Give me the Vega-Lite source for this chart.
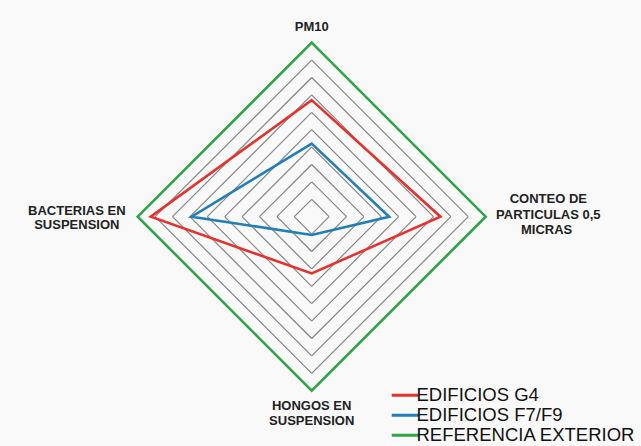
{
  "$schema": "https://vega.github.io/schema/vega-lite/v6.json",
  "width": 641,
  "height": 446,
  "autosize": {"type": "none"},
  "padding": 0,
  "background": "#f9f9f9",
  "config": {"view": {"stroke": null}, "font": "Liberation Sans"},
  "datasets": {
    "grid": [
      {"r": 1, "n": -1, "c": 0}, {"r": 2, "n": -2, "c": 0}, {"r": 3, "n": -3, "c": 0}, {"r": 4, "n": -4, "c": 0}, {"r": 5, "n": -5, "c": 0},
      {"r": 6, "n": -6, "c": 0}, {"r": 7, "n": -7, "c": 0}, {"r": 8, "n": -8, "c": 0}, {"r": 9, "n": -9, "c": 0}, {"r": 10, "n": -10, "c": 0}
    ],
    "series": [
      {"serie": "REFERENCIA EXTERIOR", "eje": "PM10", "orden": 1, "x": 0, "y": 10},
      {"serie": "REFERENCIA EXTERIOR", "eje": "CONTEO DE PARTICULAS 0,5 MICRAS", "orden": 2, "x": 10, "y": 0},
      {"serie": "REFERENCIA EXTERIOR", "eje": "HONGOS EN SUSPENSION", "orden": 3, "x": 0, "y": -10},
      {"serie": "REFERENCIA EXTERIOR", "eje": "BACTERIAS EN SUSPENSION", "orden": 4, "x": -10, "y": 0},
      {"serie": "EDIFICIOS G4", "eje": "PM10", "orden": 1, "x": 0, "y": 6.7},
      {"serie": "EDIFICIOS G4", "eje": "CONTEO DE PARTICULAS 0,5 MICRAS", "orden": 2, "x": 7.4, "y": 0},
      {"serie": "EDIFICIOS G4", "eje": "HONGOS EN SUSPENSION", "orden": 3, "x": 0, "y": -3.26},
      {"serie": "EDIFICIOS G4", "eje": "BACTERIAS EN SUSPENSION", "orden": 4, "x": -9.25, "y": 0},
      {"serie": "EDIFICIOS F7/F9", "eje": "PM10", "orden": 1, "x": 0, "y": 4.2},
      {"serie": "EDIFICIOS F7/F9", "eje": "CONTEO DE PARTICULAS 0,5 MICRAS", "orden": 2, "x": 4.45, "y": 0},
      {"serie": "EDIFICIOS F7/F9", "eje": "HONGOS EN SUSPENSION", "orden": 3, "x": 0, "y": -1.05},
      {"serie": "EDIFICIOS F7/F9", "eje": "BACTERIAS EN SUSPENSION", "orden": 4, "x": -6.9, "y": 0}
    ],
    "labels": [
      {"texto": "PM10", "x": 0, "y": 10.92},
      {"texto": "CONTEO DE", "x": 13.6, "y": 1.0},
      {"texto": "PARTICULAS 0,5", "x": 13.6, "y": 0.1},
      {"texto": "MICRAS", "x": 13.5, "y": -0.78},
      {"texto": "BACTERIAS EN", "x": -13.5, "y": 0.35},
      {"texto": "SUSPENSION", "x": -13.5, "y": -0.5},
      {"texto": "HONGOS EN", "x": 0, "y": -10.86},
      {"texto": "SUSPENSION", "x": 0, "y": -11.74}
    ]
  },
  "layer": [
    {
      "data": {"name": "grid"},
      "mark": {"type": "rule", "color": "#858585", "strokeWidth": 1.2},
      "encoding": {
        "x": {"field": "c", "type": "quantitative", "scale": {"domain": [-10, 10], "range": [137.7, 485.7]}, "axis": null},
        "y": {"field": "r", "type": "quantitative", "scale": {"domain": [-10, 10], "range": [390.7, 42.7]}, "axis": null},
        "x2": {"field": "r"},
        "y2": {"field": "c"}
      }
    },
    {
      "data": {"name": "grid"},
      "mark": {"type": "rule", "color": "#858585", "strokeWidth": 1.2},
      "encoding": {
        "x": {"field": "r", "type": "quantitative"},
        "y": {"field": "c", "type": "quantitative"},
        "x2": {"field": "c"},
        "y2": {"field": "n"}
      }
    },
    {
      "data": {"name": "grid"},
      "mark": {"type": "rule", "color": "#858585", "strokeWidth": 1.2},
      "encoding": {
        "x": {"field": "c", "type": "quantitative"},
        "y": {"field": "n", "type": "quantitative"},
        "x2": {"field": "n"},
        "y2": {"field": "c"}
      }
    },
    {
      "data": {"name": "grid"},
      "mark": {"type": "rule", "color": "#858585", "strokeWidth": 1.2},
      "encoding": {
        "x": {"field": "n", "type": "quantitative"},
        "y": {"field": "c", "type": "quantitative"},
        "x2": {"field": "c"},
        "y2": {"field": "r"}
      }
    },
    {
      "data": {"name": "series"},
      "mark": {"type": "line", "interpolate": "linear-closed", "strokeWidth": 2.6},
      "encoding": {
        "x": {"field": "x", "type": "quantitative"},
        "y": {"field": "y", "type": "quantitative"},
        "order": {"field": "orden", "type": "quantitative"},
        "color": {
          "field": "serie",
          "type": "nominal",
          "sort": ["EDIFICIOS G4", "EDIFICIOS F7/F9", "REFERENCIA EXTERIOR"],
          "scale": {
            "domain": ["EDIFICIOS G4", "EDIFICIOS F7/F9", "REFERENCIA EXTERIOR"],
            "range": ["#e5322d", "#1f7fb6", "#2fa545"]
          },
          "legend": {
            "title": null,
            "orient": "none",
            "legendX": 396,
            "legendY": 386,
            "labelFontSize": 18.5,
            "labelLimit": 0,
            "labelColor": "#111111",
            "labelFont": "Liberation Sans",
            "symbolType": "M-2.5,0H2.5",
            "symbolSize": 117,
            "symbolStrokeWidth": 3,
            "labelOffset": 2,
            "rowPadding": 1
          }
        }
      }
    },
    {
      "data": {"name": "labels"},
      "mark": {"type": "text", "fontSize": 13, "fontWeight": "bold", "color": "#222222", "align": "center", "baseline": "middle"},
      "encoding": {
        "x": {"field": "x", "type": "quantitative"},
        "y": {"field": "y", "type": "quantitative"},
        "text": {"field": "texto"}
      }
    }
  ]
}
